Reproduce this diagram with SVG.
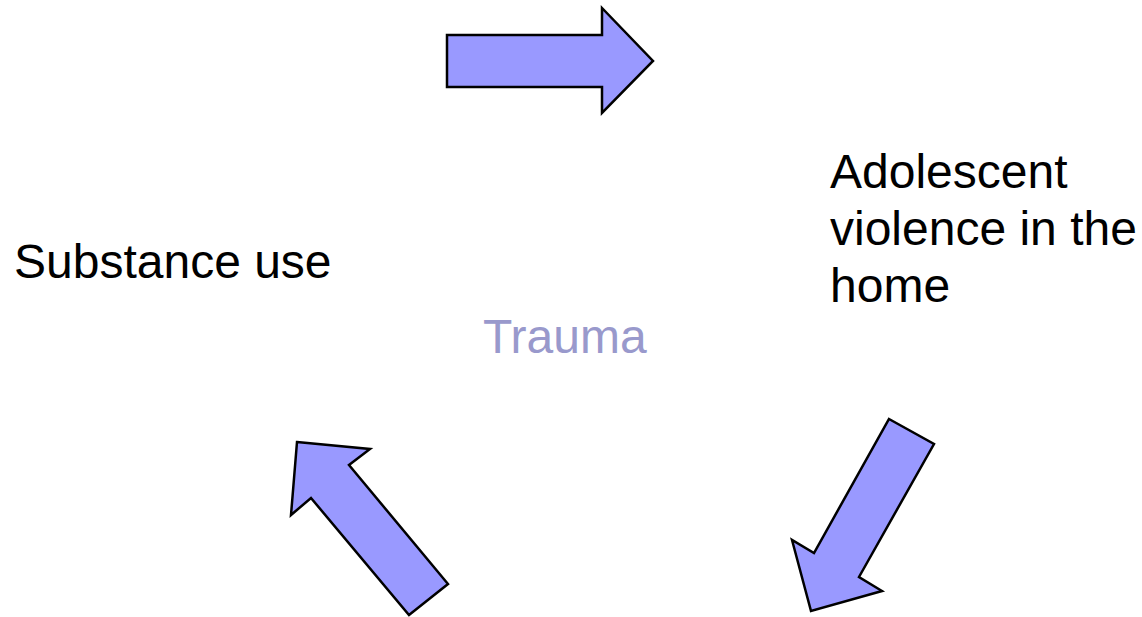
<svg xmlns="http://www.w3.org/2000/svg" width="1142" height="617" viewBox="0 0 1142 617">
<style>
.arrow{fill:#9999FF;stroke:#000;stroke-width:2.5;stroke-linejoin:miter}
.lbl{font-family:"Liberation Sans",Arial,sans-serif;font-size:48px;fill:#000}
.center{font-family:"Liberation Sans",Arial,sans-serif;font-size:48px;fill:#9999CC}
</style>
<rect width="1142" height="617" fill="#fff"/>
<g id="connectors">
<polygon class="arrow" points="447,35 602,35 602,8 653,61 602,113 602,87 447,87"/>
<polygon class="arrow" points="889,419 934,444 859,577 882,591 811,611 792,540 814,553"/>
<polygon class="arrow" points="297,442 370,449 349,465 448,584 409,615 311,498 291,515"/>
</g>
<g id="node-substance">
<text class="lbl" x="14" y="278">Substance use</text>
</g>
<g id="node-violence">
<text class="lbl" x="830" y="188">Adolescent<tspan x="830" dy="57">violence in the</tspan><tspan x="830" dy="57">home</tspan></text>
</g>
<g id="node-trauma">
<text class="center" x="483" y="353">Trauma</text>
</g>
</svg>
